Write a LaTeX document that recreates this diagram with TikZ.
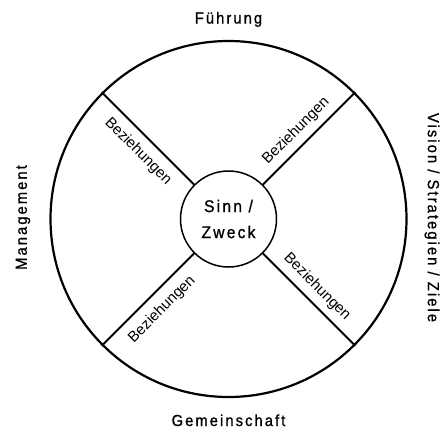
\documentclass[tikz,border=0pt]{standalone}
\usepackage{fontspec}
\setmainfont{Liberation Sans}
\newfontfamily\lblfont[LetterSpace=13,FakeStretch=0.92,FakeBold=1]{Liberation Sans}
\newfontfamily\relfont{Liberation Sans}
\begin{document}
\begin{tikzpicture}[x=1pt,y=-1pt,
  lab/.style={font=\lblfont\fontsize{16}{19}\selectfont, inner sep=0pt, text=black},
  rel/.style={font=\relfont\fontsize{15}{18}\selectfont, inner sep=0pt, text=black},
  ring/.style={circle, draw, inner sep=0pt},
  spoke/.style={line width=2pt}
]
\useasboundingbox (0,0) rectangle (441,431);
\node[ring, line width=2.2pt, minimum size=356pt] (o) at (228.5,219) {};
\node[ring, line width=1.5pt, minimum size=96pt, align=center,
      font=\lblfont\fontsize{17}{26}\selectfont, text=black] (c) at (228.5,219) {Sinn /\\Zweck};
\draw[spoke] (c.45) -- (o.45);
\draw[spoke] (c.135) -- (o.135);
\draw[spoke] (c.225) -- (o.225);
\draw[spoke] (c.315) -- (o.315);
\node[rel, rotate=-45] (r1) at (138,151.5) {Beziehungen};
\node[rel, rotate=45] (r2) at (296,131) {Beziehungen};
\node[rel, rotate=-45] (r3) at (317,287) {Beziehungen};
\node[rel, rotate=45] (r4) at (162,309.5) {Beziehungen};
\node[lab, anchor=base] (fu) at (228.5,23.5) {Führung};
\node[lab, anchor=base] (ge) at (228.5,426) {Gemeinschaft};
\node[lab, rotate=90] (ma) at (23,217.5) {Management};
\node[lab, rotate=-90] (vi) at (432,217.5) {Vision / Strategien / Ziele};
\end{tikzpicture}
\end{document}
